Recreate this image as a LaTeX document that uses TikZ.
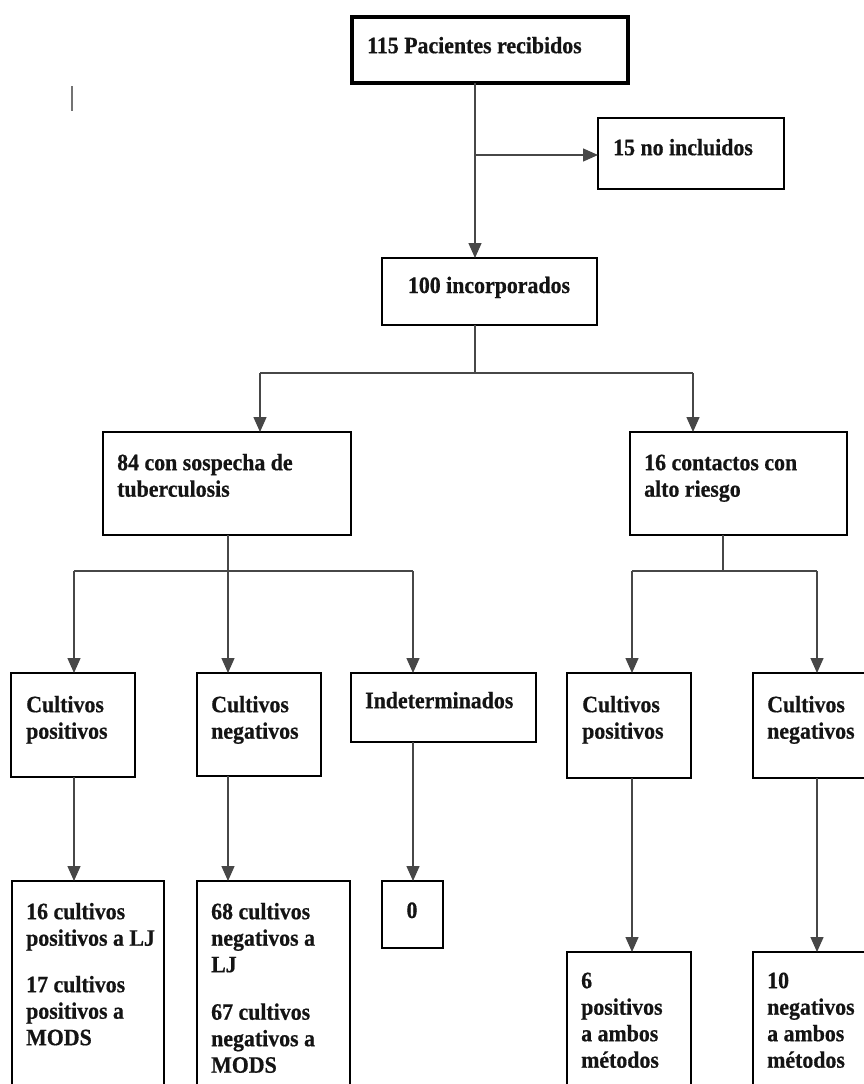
\documentclass[tikz,border=0pt]{standalone}
\usepackage{fontspec}
\setmainfont{Liberation Serif}[FakeStretch=0.93, BoldFeatures={FakeBold=0.6}]
\usetikzlibrary{arrows.meta}
\newcommand\boxfont{\bfseries\fontsize{23.5}{26.5}\selectfont}
\begin{document}
\begin{tikzpicture}[x=1pt,y=-1pt,
  box/.style={draw=black, line width=2.8pt, rectangle, inner sep=0pt, outer sep=0pt, anchor=north west},
  txt/.style={anchor=north west, inner sep=0pt, align=left, font=\boxfont, text=black!92},
  ctxt/.style={anchor=base, inner sep=0pt, font=\boxfont, text=black!92},
  conn/.style={draw=black!72, line width=1.4pt},
  arr/.style={conn, -{Triangle[length=15pt,width=13pt]}}]
\clip (0,0) rectangle (864,1084);
\fill[white] (0,0) rectangle (864,1084);

% stray mark
\draw[black!55, line width=2pt] (72,86) -- (72,111);

% boxes
\node[box, line width=3.8pt, minimum width=276pt, minimum height=66pt] (tb) at (352,17) {};
\node[box, minimum width=186pt, minimum height=71pt] (excl) at (598,118) {};
\node[box, minimum width=215pt, minimum height=67pt] (inc) at (382,258) {};
\node[box, minimum width=248pt, minimum height=103pt] (sus) at (103,432) {};
\node[box, minimum width=217pt, minimum height=103pt] (con) at (630,432) {};
\node[box, minimum width=124pt, minimum height=104pt] (cp) at (11,673) {};
\node[box, minimum width=124pt, minimum height=103pt] (cn) at (197,673) {};
\node[box, minimum width=185pt, minimum height=69pt] (ind) at (351,673) {};
\node[box, minimum width=124pt, minimum height=105pt] (rcp) at (567,673) {};
\node[box, minimum width=150pt, minimum height=105pt] (rcn) at (753,673) {};
\node[box, minimum width=152pt, minimum height=240pt] (pl) at (12,881) {};
\node[box, minimum width=153pt, minimum height=240pt] (nl) at (197,881) {};
\node[box, minimum width=61pt, minimum height=67pt] (zero) at (382,881) {};
\node[box, minimum width=124pt, minimum height=180pt] (rpa) at (567,952) {};
\node[box, minimum width=150pt, minimum height=180pt] (rna) at (753,952) {};

% texts (top = baseline - 0.7*26.5)
\node[txt] (ttb) at (367,34.45) {\strut 115 Pacientes recibidos};
\node[txt] (texcl) at (613,136.45) {\strut 15 no incluidos};
\node[ctxt] (tinc) at (489,293) {100 incorporados};
\node[txt] (tsus) at (117,451.45) {\strut 84 con sospecha de\\tuberculosis};
\node[txt] (tcon) at (644,451.45) {\strut 16 contactos con\\alto riesgo};
\node[txt] (tcp) at (26,693.45) {\strut Cultivos\\positivos};
\node[txt] (tcn) at (211,693.45) {\strut Cultivos\\negativos};
\node[txt] (tind) at (365,689.45) {\strut Indeterminados};
\node[txt] (trcp) at (582,693.45) {\strut Cultivos\\positivos};
\node[txt] (trcn) at (767,693.45) {\strut Cultivos\\negativos};
\node[txt] (tpl) at (26,900.45) {\strut 16 cultivos\\positivos a LJ\\[20pt]17 cultivos\\positivos a\\MODS};
\node[txt] (tnl) at (211,900.45) {\strut 68 cultivos\\negativos a\\LJ\\[21pt]67 cultivos\\negativos a\\MODS};
\node[ctxt] (tzero) at (412,918) {0};
\node[txt] (trpa) at (581,969.45) {\strut 6\\positivos\\a ambos\\métodos};
\node[txt] (trna) at (767,969.45) {\strut 10\\negativos\\a ambos\\métodos};

% junction coordinates
\coordinate (j1) at (475,155);
\coordinate (j2) at (475,373);
\coordinate (jl) at (260,373);
\coordinate (jr) at (693,373);
\coordinate (k1) at (228,571);
\coordinate (ka) at (74,571);
\coordinate (kc) at (413,571);
\coordinate (m1) at (723,571);
\coordinate (ma) at (632,571);
\coordinate (mb) at (817,571);

% connectors
\draw[arr] (tb.south -| j1) -- (inc.north -| j1);
\draw[arr] (j1) -- (excl.west |- j1);
\draw[conn] (inc.south -| j2) -- (j2);
\draw[conn] (jl) -- (jr);
\draw[arr] (jl) -- (sus.north -| jl);
\draw[arr] (jr) -- (con.north -| jr);

\draw[conn] (sus.south -| k1) -- (k1);
\draw[conn] (ka) -- (kc);
\draw[arr] (ka) -- (cp.north -| ka);
\draw[arr] (k1) -- (cn.north -| k1);
\draw[arr] (kc) -- (ind.north -| kc);

\draw[conn] (con.south -| m1) -- (m1);
\draw[conn] (ma) -- (mb);
\draw[arr] (ma) -- (rcp.north -| ma);
\draw[arr] (mb) -- (rcn.north -| mb);

\draw[arr] (cp.south -| ka) -- (pl.north -| ka);
\draw[arr] (cn.south -| k1) -- (nl.north -| k1);
\draw[arr] (ind.south -| kc) -- (zero.north -| kc);
\draw[arr] (rcp.south -| ma) -- (rpa.north -| ma);
\draw[arr] (rcn.south -| mb) -- (rna.north -| mb);
\end{tikzpicture}
\end{document}
